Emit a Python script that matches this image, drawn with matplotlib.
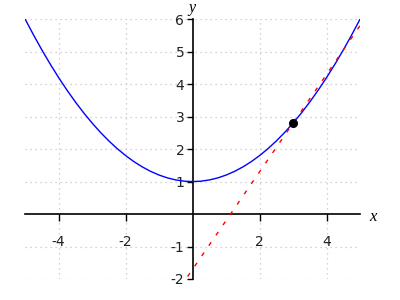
import matplotlib
matplotlib.use("Agg")
import matplotlib.pyplot as plt

# curve samples (step 0.25)
curve_x = [-5, -4.75, -4.5, -4.25, -4, -3.75, -3.5, -3.25, -3, -2.75,
           -2.5, -2.25, -2, -1.75, -1.5, -1.25, -1, -0.75, -0.5, -0.25, 0,
           0.25, 0.5, 0.75, 1, 1.25, 1.5, 1.75, 2, 2.25, 2.5,
           2.75, 3, 3.25, 3.5, 3.75, 4, 4.25, 4.5, 4.75, 5]
curve_y = [6.0, 5.5125, 5.05, 4.6125, 4.2, 3.8125, 3.45, 3.1125, 2.8, 2.5125,
           2.25, 2.0125, 1.8, 1.6125, 1.45, 1.3125, 1.2, 1.1125, 1.05, 1.0125, 1.0,
           1.0125, 1.05, 1.1125, 1.2, 1.3125, 1.45, 1.6125, 1.8, 2.0125, 2.25,
           2.5125, 2.8, 3.1125, 3.45, 3.8125, 4.2, 4.6125, 5.05, 5.5125, 6.0]
# dashed red line endpoints
line_x = [-0.15, 5]
line_y = [-1.925, 5.8]
# marked point
pt_x = [3]
pt_y = [2.8]

x_ticks = [-4, -2, 2, 4]
y_ticks = [-2, -1, 1, 2, 3, 4, 5, 6]

fig = plt.figure(figsize=(4, 3), dpi=100)
ax = fig.add_axes([0.063, 0.07, 0.837, 0.866])
ax.set_xlim(-5, 5)
ax.set_ylim(-2, 6)

for s in ["top", "right"]:
    ax.spines[s].set_visible(False)
ax.spines["left"].set_position(("data", 0))
ax.spines["bottom"].set_position(("data", 0))
for s in ["left", "bottom"]:
    ax.spines[s].set_color("black")
    ax.spines[s].set_linewidth(1.2)

ax.set_xticks(x_ticks)
ax.set_yticks(y_ticks)
ax.set_xticklabels([str(v) for v in x_ticks])
ax.set_yticklabels([str(v) for v in y_ticks])
ax.tick_params(axis="x", direction="out", length=4.8, width=1, pad=10.5,
               labelsize=10, labelcolor="#222222")
ax.tick_params(axis="y", direction="out", length=4.5, width=1, pad=1.5,
               labelsize=10, labelcolor="#222222")

for gx in x_ticks:
    ax.axvline(gx, color="#c4c4c4", lw=0.9, ls=(0, (1, 3)), zorder=0)
for gy in y_ticks:
    ax.axhline(gy, color="#c4c4c4", lw=0.9, ls=(0, (1, 3)), zorder=0)

ax.plot(curve_x, curve_y, color="#0000ff", lw=1.0, zorder=3)
ax.plot(line_x, line_y, color="#ff0000", lw=1.0, ls=(0, (3, 6)), zorder=3)
ax.plot(pt_x, pt_y, "o", color="black", ms=5.5, zorder=4)

ax.text(5.38, -0.22, "x", family="Liberation Serif", style="italic",
        fontsize=12, ha="center", va="baseline", clip_on=False)
ax.text(-0.02, 6.22, "y", family="Liberation Serif", style="italic",
        fontsize=11.5, ha="center", va="baseline", clip_on=False)

fig.savefig("out.png", dpi=100)
